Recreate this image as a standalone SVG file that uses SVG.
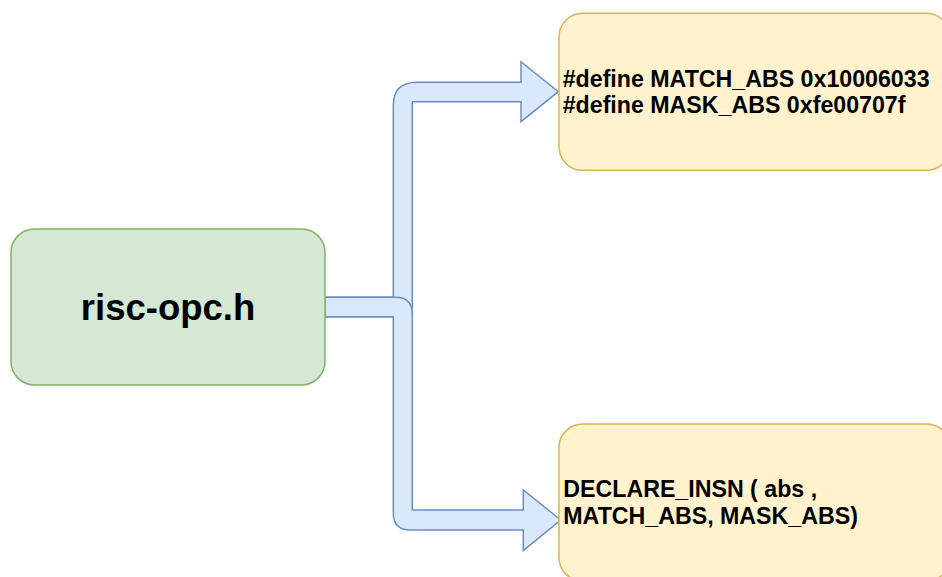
<svg xmlns="http://www.w3.org/2000/svg" width="942" height="577" viewBox="0 0 942 577">
  <style>
    .src { fill: #d5e8d4; stroke: #82b366; stroke-width: 1.5; }
    .dst { fill: #fff2cc; stroke: #d6b656; stroke-width: 1.5; }
    .flex { fill: #dae8fc; stroke: #6c8ebf; stroke-width: 1.5; stroke-linejoin: miter; }
    .lbl { font-family: "Liberation Sans", Arial, sans-serif; font-weight: bold; fill: #000000; }
  </style>

  <rect width="942" height="577" fill="#ffffff"/>

  <!-- wide block arrows -->
  <g id="connectors">
    <path class="flex" d="M325,297.3 L393.3,297.3 L393.3,105.8 Q393.3,82.3 416.8,82.3 L521,82.3 L521,61.7 L558.3,91.7 L521,121.7 L521,101.7 L412.3,101.7 L412.3,316.7 L325,316.7 Z"/>
    <path class="flex" d="M325,297.3 L395.3,297.3 Q412.3,297.3 412.3,314.3 L412.3,510 L523.3,510 L523.3,490 L560.7,520 L523.3,550.7 L523.3,530 L410.3,530 Q393.3,530 393.3,513 L393.3,316.7 L325,316.7 Z"/>
  </g>

  <g id="node-risc-opc">
    <rect class="src" x="11" y="229" width="314" height="156" rx="23.4" ry="23.4"/>
    <text class="lbl" x="168" y="320" font-size="36.5" text-anchor="middle">risc-opc.h</text>
  </g>

  <g id="node-defines">
    <rect class="dst" x="559" y="13.3" width="391" height="157" rx="23.5" ry="23.5"/>
    <text class="lbl" font-size="23.2">
      <tspan x="562.7" y="87">#define MATCH_ABS 0x10006033</tspan>
      <tspan x="562.7" y="112.7">#define MASK_ABS 0xfe00707f</tspan>
    </text>
  </g>

  <g id="node-declare">
    <rect class="dst" x="559" y="424" width="391" height="157" rx="23.5" ry="23.5"/>
    <text class="lbl" font-size="23.2">
      <tspan x="563.3" y="497.3">DECLARE_INSN ( abs ,</tspan>
      <tspan x="563.3" y="524">MATCH_ABS, MASK_ABS)</tspan>
    </text>
  </g>
</svg>
